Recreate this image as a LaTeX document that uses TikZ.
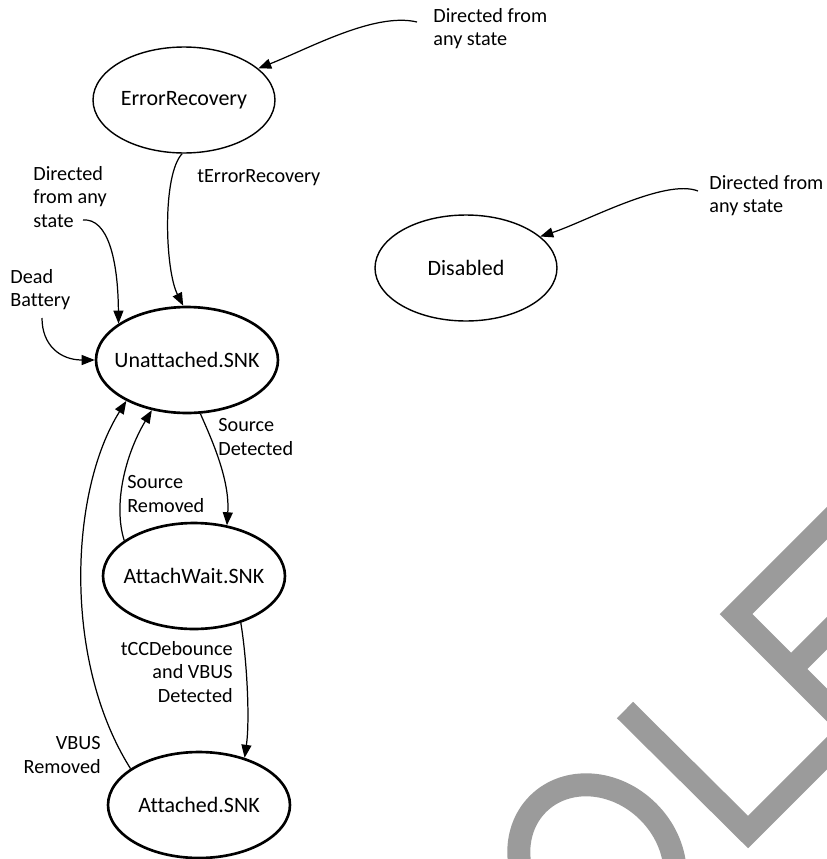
\documentclass[tikz,border=0pt]{standalone}
\usepackage{fontspec}
\setmainfont{Carlito}[Ligatures=CommonOff]
\usetikzlibrary{arrows.meta,shapes.geometric}
\definecolor{wmgray}{RGB}{155,155,155}
\begin{document}
\begin{tikzpicture}[
  x=0.02cm,y=-0.02cm,
  state/.style={ellipse, draw, line width=0.8pt, minimum width=3.64cm, minimum height=2.12cm, inner sep=0pt},
  snk/.style={state, line width=1.5pt},
  statetext/.style={font=\fontsize{12.5}{15}\selectfont},
  note/.style={inner sep=0pt, font=\fontsize{11.5}{13.2}\selectfont},
  arrow/.style={-{Triangle[length=2.6mm,width=2mm]}, line width=0.7pt},
  wmark/.style={line width=0.46cm, draw=wmgray}
]
\useasboundingbox (0,0) rectangle (827,859);

\begin{scope}
\clip (0,0) rectangle (827,859);
\draw[wmark] (625,710) -- (748,832) -- (870,710);
\draw[wmark] (860,490) -- (736,614) -- (880,758);
\draw[wmark] (791,669) -- (860,600);
\draw[wmark, rotate around={45:(597,863)}] (597,863) ellipse [x radius=72.5, y radius=83.5];
\end{scope}

\node[state, label={[statetext]center:ErrorRecovery}] (er) at (184,100) {};
\node[snk, label={[statetext]center:Unattached.SNK}] (un) at (187,360) {};
\node[snk, label={[statetext]center:AttachWait.SNK}] (aw) at (194,576) {};
\node[snk, label={[statetext]center:Attached.SNK}] (at) at (199,805) {};
\node[state, label={[statetext]center:Disabled}] (dis) at (466,268) {};

\node[note, anchor=west, align=left] (dirtop) at (433,29) {Directed from\\any state};
\node[note, anchor=west] (lblrec) at (197,178) {tErrorRecovery};
\node[note, anchor=west, align=left] (dirleft) at (33,197) {Directed\\from any\\state};
\node[note, anchor=west, align=left] (dead) at (10,290) {Dead\\Battery};
\node[note, anchor=west, align=left] (lbldet) at (218,437) {Source\\Detected};
\node[note, anchor=west, align=left] (lblrem) at (127,494) {Source\\Removed};
\node[note, anchor=east, align=right] (lblcc) at (233,672) {tCCDebounce\\and VBUS\\Detected};
\node[note, anchor=east, align=right] (lblvbus) at (101,755) {VBUS\\Removed};
\node[note, anchor=west, align=left] (dirdis) at (709,196) {Directed from\\any state};

\coordinate (dirtopend) at (417,22);
\coordinate (dirleftend) at (83,220);
\coordinate (deadend) at (42,318);
\coordinate (dirdisend) at (698,191);

\draw[arrow] (dirtopend) .. controls (375,12) and (310,48) .. (er.23);
\draw[arrow] (er.268) .. controls (162,175) and (165,270) .. (un.94);
\draw[arrow] (dirleftend) .. controls (108,218) and (118,260) .. (un.152);
\draw[arrow] (deadend) .. controls (42,345) and (60,360) .. (un.180);
\draw[arrow] (un.284) .. controls (212,440) and (230,480) .. (aw.57);
\draw[arrow] (aw.153) .. controls (113,505) and (125,455) .. (un.235);
\draw[arrow] (aw.315) .. controls (247,660) and (250,720) .. (at.46);
\draw[arrow] (at.152) .. controls (62,660) and (70,490) .. (un.214);
\draw[arrow] (dirdisend) .. controls (665,178) and (585,222) .. (dis.23);
\end{tikzpicture}
\end{document}
